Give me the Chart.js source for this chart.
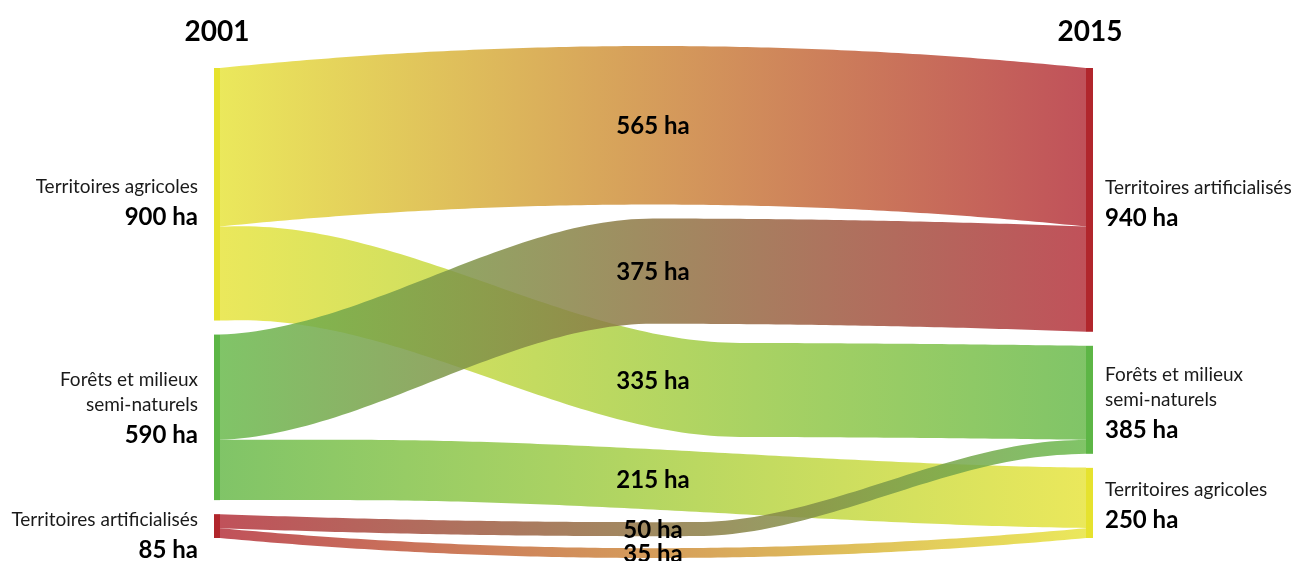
<!DOCTYPE html>
<html>
<head>
<meta charset="utf-8">
<script src="https://cdn.jsdelivr.net/npm/chart.js@4.4.1/dist/chart.umd.min.js"></script>
<style>
  html, body { margin: 0; padding: 0; background: #fff; }
  canvas { display: block; }
</style>
</head>
<body>
<canvas id="sankey" width="1296" height="561"></canvas>
<script>
// data
const YEARS = ['2001', '2015'];
const NODE_LINES = [['Territoires agricoles'], ['Forêts et milieux', 'semi-naturels'], ['Territoires artificialisés']];
const LEFT_ORDER = [0, 1, 2];
const RIGHT_ORDER = [2, 1, 0];
const FLOW_FROM = [0, 0, 1, 1, 2, 2];
const FLOW_TO = [2, 1, 2, 0, 1, 0];
const FLOW_HA = [565, 335, 375, 215, 50, 35];
const GAP_HA = 50;

// styles
const BAR_COLORS = ['#E6E22E', '#5DB646', '#B1262C'];
const FLOW_RGB = [[231, 228, 63], [106, 186, 77], [181, 51, 61]];
// [bend start, bend end (share of width), arch in px]
const FLOW_SHAPE = [[0, 1, -22], [0.02, 0.6, -3], [0, 0.5, -8], [0.15, 1.05, 0], [0.55, 0.98, 8], [0, 1, 20]];
const LEFT_NUDGE = [8, -10, 9];
const RIGHT_NUDGE = [3, 3, 2];
const FONT = 'Lato, "Open Sans", sans-serif';

// node totals + stacking (in ha)
const leftTotal = [0, 0, 0], rightTotal = [0, 0, 0];
FLOW_HA.forEach((v, i) => { leftTotal[FLOW_FROM[i]] += v; rightTotal[FLOW_TO[i]] += v; });

function stack(order, totals) {
  const start = [];
  let acc = 0;
  order.forEach(n => { start[n] = acc; acc += totals[n] + GAP_HA; });
  return start;
}
const leftStart = stack(LEFT_ORDER, leftTotal);
const rightStart = stack(RIGHT_ORDER, rightTotal);
const Y_MAX = leftTotal.reduce((a, b) => a + b, 0) + GAP_HA * (LEFT_ORDER.length - 1);

// where each flow sits inside its nodes
const flowL = [], flowR = [];
{
  const lAcc = leftStart.slice(), rAcc = rightStart.slice();
  FLOW_HA.forEach((v, i) => {
    flowL[i] = lAcc[FLOW_FROM[i]]; lAcc[FLOW_FROM[i]] += v;
    flowR[i] = rAcc[FLOW_TO[i]]; rAcc[FLOW_TO[i]] += v;
  });
}

const smooth = t => { t = Math.max(0, Math.min(1, t)); return t * t * (3 - 2 * t); };
function edgeY(a, b, u, shape) {
  return a + (b - a) * smooth((u - shape[0]) / (shape[1] - shape[0])) + shape[2] * 4 * u * (1 - u);
}
const rgba = (c, a) => `rgba(${c[0]},${c[1]},${c[2]},${a})`;

const sankeyPlugin = {
  id: 'sankey',
  afterDraw(chart) {
    const { ctx, scales: { x, y } } = chart;
    const barW = 6;
    const xl = x.getPixelForValue(0), xr = x.getPixelForValue(1);
    const x0 = xl + barW, x1 = xr - barW - 1;
    const N = 120;
    const labels = [];

    ctx.save();
    FLOW_HA.forEach((v, i) => {
      const tl = y.getPixelForValue(flowL[i]), bl = y.getPixelForValue(flowL[i] + v);
      const tr = y.getPixelForValue(flowR[i]), br = y.getPixelForValue(flowR[i] + v);
      const sh = FLOW_SHAPE[i];
      ctx.beginPath();
      for (let k = 0; k <= N; k++) {
        const u = k / N;
        ctx.lineTo(x0 + u * (x1 - x0), edgeY(tl, tr, u, sh));
      }
      for (let k = N; k >= 0; k--) {
        const u = k / N;
        ctx.lineTo(x0 + u * (x1 - x0), edgeY(bl, br, u, sh));
      }
      ctx.closePath();
      const g = ctx.createLinearGradient(x0, 0, x1, 0);
      g.addColorStop(0, rgba(FLOW_RGB[FLOW_FROM[i]], 0.85));
      g.addColorStop(1, rgba(FLOW_RGB[FLOW_TO[i]], 0.85));
      ctx.fillStyle = g;
      ctx.fill();
      labels.push([v + ' ha', (x0 + x1) / 2, (edgeY(tl, tr, 0.5, sh) + edgeY(bl, br, 0.5, sh)) / 2 + 1]);
    });

    // node bars
    [0, 1, 2].forEach(n => {
      ctx.fillStyle = BAR_COLORS[n];
      const lt = y.getPixelForValue(leftStart[n]), lb = y.getPixelForValue(leftStart[n] + leftTotal[n]);
      ctx.fillRect(xl, lt, barW, lb - lt);
      const rt = y.getPixelForValue(rightStart[n]), rb = y.getPixelForValue(rightStart[n] + rightTotal[n]);
      ctx.fillRect(x1, rt, xr - x1, rb - rt);
    });

    // flow values
    ctx.textAlign = 'center';
    ctx.textBaseline = 'middle';
    ctx.fillStyle = '#000';
    ctx.font = 'bold 24px ' + FONT;
    labels.forEach(l => ctx.fillText(l[0], l[1], l[2]));

    // years
    ctx.font = 'bold 28px ' + FONT;
    ctx.fillText(YEARS[0], xl + barW / 2, chart.chartArea.top - 36);
    ctx.fillText(YEARS[1], xr - barW / 2, chart.chartArea.top - 36);

    // node labels
    function nodeLabel(n, total, start, side, nudge) {
      const lines = NODE_LINES[n];
      const span = 25 * (lines.length - 1) + 30;
      const mid = (y.getPixelForValue(start) + y.getPixelForValue(start + total)) / 2;
      const yy = mid - span / 2 + nudge;
      const tx = side === 'left' ? xl - 16 : xr + 12;
      ctx.textAlign = side === 'left' ? 'right' : 'left';
      ctx.fillStyle = '#1a1a1a';
      ctx.font = '19px ' + FONT;
      lines.forEach((t, j) => { ctx.fillText(t, tx, yy + 25 * j); });
      ctx.fillStyle = '#000';
      ctx.font = 'bold 24px ' + FONT;
      ctx.fillText(total + ' ha', tx, yy + 25 * (lines.length - 1) + 30);
    }
    LEFT_ORDER.forEach((n, j) => nodeLabel(n, leftTotal[n], leftStart[n], 'left', LEFT_NUDGE[j]));
    RIGHT_ORDER.forEach((n, j) => nodeLabel(n, rightTotal[n], rightStart[n], 'right', RIGHT_NUDGE[j]));
    ctx.restore();
  }
};

new Chart(document.getElementById('sankey'), {
  type: 'scatter',
  data: { datasets: [] },
  options: {
    responsive: false,
    animation: false,
    layout: { padding: { left: 214, right: 203, top: 68, bottom: 23 } },
    scales: {
      x: { type: 'linear', min: 0, max: 1, display: false },
      y: { type: 'linear', min: 0, max: Y_MAX, reverse: true, display: false }
    },
    plugins: { legend: { display: false }, tooltip: { enabled: false } }
  },
  plugins: [sankeyPlugin]
});
</script>
</body>
</html>
